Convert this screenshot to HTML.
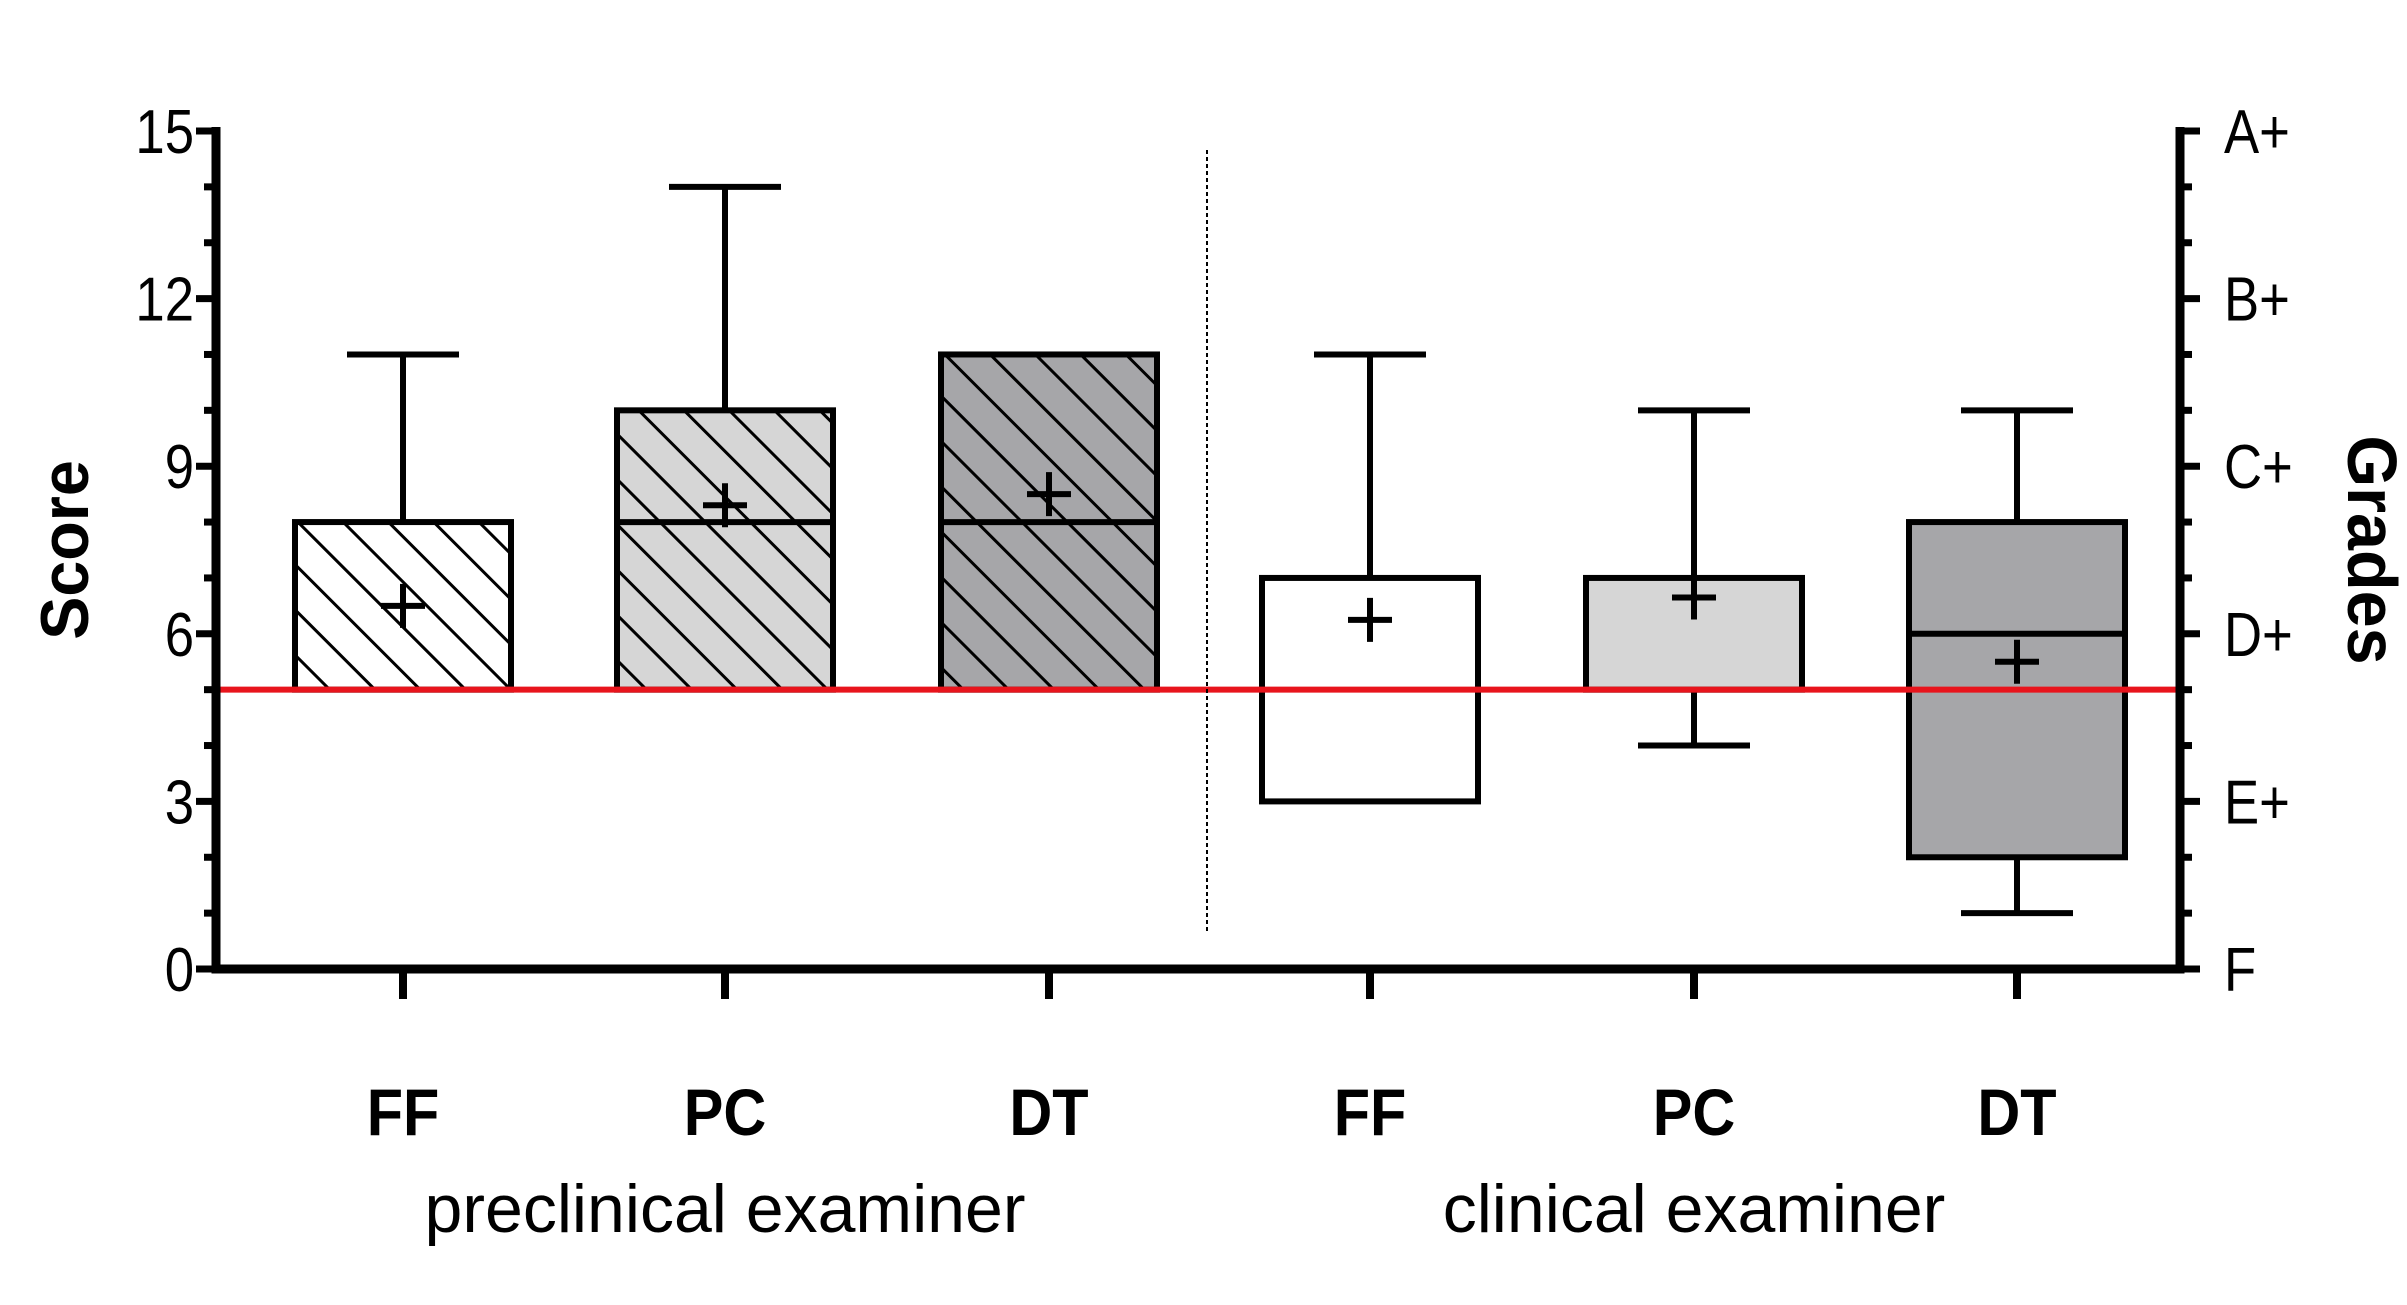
<!DOCTYPE html>
<html><head><meta charset="utf-8">
<style>
html,body{margin:0;padding:0;background:#fff;}
svg{display:block;font-family:"Liberation Sans",Arial,sans-serif;}
</style></head>
<body>
<svg id="chart" width="2407" height="1305" viewBox="0 0 2407 1305" xmlns="http://www.w3.org/2000/svg">
<defs>
<pattern id="hatch" patternUnits="userSpaceOnUse" width="32" height="32" patternTransform="rotate(-45)">
<rect width="32" height="32" fill="none"/>
<line x1="0" y1="0" x2="0" y2="32" stroke="#000" stroke-width="6"/>
</pattern>
</defs>
<g id="plot"></g>
</svg>
<script>
const categories = ["FF","PC","DT","FF","PC","DT"];
const groups = ["preclinical examiner","clinical examiner"];
const boxLow = [5,5,5,3,5,2];
const boxHigh = [8,10,11,7,7,8];
const medians = [8,8,8,7,7,6];
const whiskerLow = [5,5,5,3,4,1];
const whiskerHigh = [11,14,11,11,10,10];
const means = [6.5,8.3,8.5,6.25,6.65,5.5];
const fills = ["#ffffff","#d6d6d6","#a6a6a9","#ffffff","#d6d6d6","#a6a6a9"];
const hatched = [true,true,true,false,false,false];
const leftTicks = [0,3,6,9,12,15];
const rightTicks = ["F","E+","D+","C+","B+","A+"];
const threshold = 5;

const NS="http://www.w3.org/2000/svg";
const g=document.getElementById('plot');
const X0=216, X1=2180, Y0=969, Y1=131;
const xPos=[403,725,1049,1370,1694,2017];
const y=v=>Y0-(v/15)*(Y0-Y1);
const x=i=>xPos[i];
function mk(tag,attrs,parent){const e=document.createElementNS(NS,tag);for(const k in attrs)e.setAttribute(k,attrs[k]);(parent||g).appendChild(e);return e;}
function txt(s,tx,ty,size,anchor,bold,sx,rot){
  const t=mk('text',{x:0,y:0,'text-anchor':anchor,'font-size':size,transform:`translate(${tx},${ty}) rotate(${rot||0}) scale(${sx},1)`});
  if(bold)t.setAttribute('font-weight','bold');
  t.textContent=s;return t;
}

const bw=108, cw=56, sw=6;
for(let i=0;i<categories.length;i++){
  const bg=mk('g',{});
  
  
  const cx=x(i);
  if(whiskerHigh[i]>boxHigh[i]){
    mk('line',{x1:cx,x2:cx,y1:y(boxHigh[i]),y2:y(whiskerHigh[i]),stroke:'#000','stroke-width':sw},bg);
    mk('line',{x1:cx-cw,x2:cx+cw,y1:y(whiskerHigh[i]),y2:y(whiskerHigh[i]),stroke:'#000','stroke-width':sw},bg);
  }
  if(whiskerLow[i]<boxLow[i]){
    mk('line',{x1:cx,x2:cx,y1:y(boxLow[i]),y2:y(whiskerLow[i]),stroke:'#000','stroke-width':sw},bg);
    mk('line',{x1:cx-cw,x2:cx+cw,y1:y(whiskerLow[i]),y2:y(whiskerLow[i]),stroke:'#000','stroke-width':sw},bg);
  }
  const h=y(boxLow[i])-y(boxHigh[i]);
  mk('rect',{x:cx-bw,y:y(boxHigh[i]),width:2*bw,height:h,fill:fills[i]},bg);
  if(hatched[i]) mk('rect',{x:cx-bw,y:y(boxHigh[i]),width:2*bw,height:h,fill:'url(#hatch)'},bg);
  mk('rect',{x:cx-bw,y:y(boxHigh[i]),width:2*bw,height:h,fill:'none',stroke:'#000','stroke-width':sw},bg);
  if(medians[i]<boxHigh[i]&&medians[i]>boxLow[i])
    mk('line',{x1:cx-bw,x2:cx+bw,y1:y(medians[i]),y2:y(medians[i]),stroke:'#000','stroke-width':sw},bg);
  const my=y(means[i]);
  const m=mk('path',{d:`M${cx-22},${my}H${cx+22}M${cx},${my-22}V${my+22}`,stroke:'#000','stroke-width':6,fill:'none'},bg);
  
  
}

const red=mk('line',{x1:X0,x2:X1,y1:y(threshold),y2:y(threshold),stroke:'#e8141c','stroke-width':6});



const dv=mk('line',{x1:1207,x2:1207,y1:150,y2:934,stroke:'#000','stroke-width':2,'stroke-dasharray':'4,3'});



const ax=mk('path',{d:`M${X0},${Y1-4}V${Y0}H${X1}V${Y1-4}`,stroke:'#000','stroke-width':9,fill:'none'});


for(let v=0;v<=15;v++){
  const major=v%3===0, L=major?20:12;
  mk('line',{x1:X0-L,x2:X0,y1:y(v),y2:y(v),stroke:'#000','stroke-width':7});
  mk('line',{x1:X1,x2:X1+L,y1:y(v),y2:y(v),stroke:'#000','stroke-width':7});
}
leftTicks.forEach((v,k)=>{
  const t=txt(String(v),X0-22,y(v)+22,62,'end',false,0.85);
  
  
  const r=txt(rightTicks[k],X1+44,y(v)+22,62,'start',false,0.85);
  
  
});
categories.forEach((c,i)=>{
  mk('line',{x1:x(i),x2:x(i),y1:Y0,y2:Y0+30,stroke:'#000','stroke-width':8});
  const t=txt(c,x(i),1135,66,'middle',true,0.9);
  
  
});
groups.forEach((s,k)=>{
  const t=txt(s,k?1694:725,1232,68,'middle',false,1.0);
  
  
});
const st=txt('Score',88,550,68,'middle',true,0.95,-90);


const gt=txt('Grades',2348,550,70,'middle',true,0.95,90);


</script>
</body></html>
